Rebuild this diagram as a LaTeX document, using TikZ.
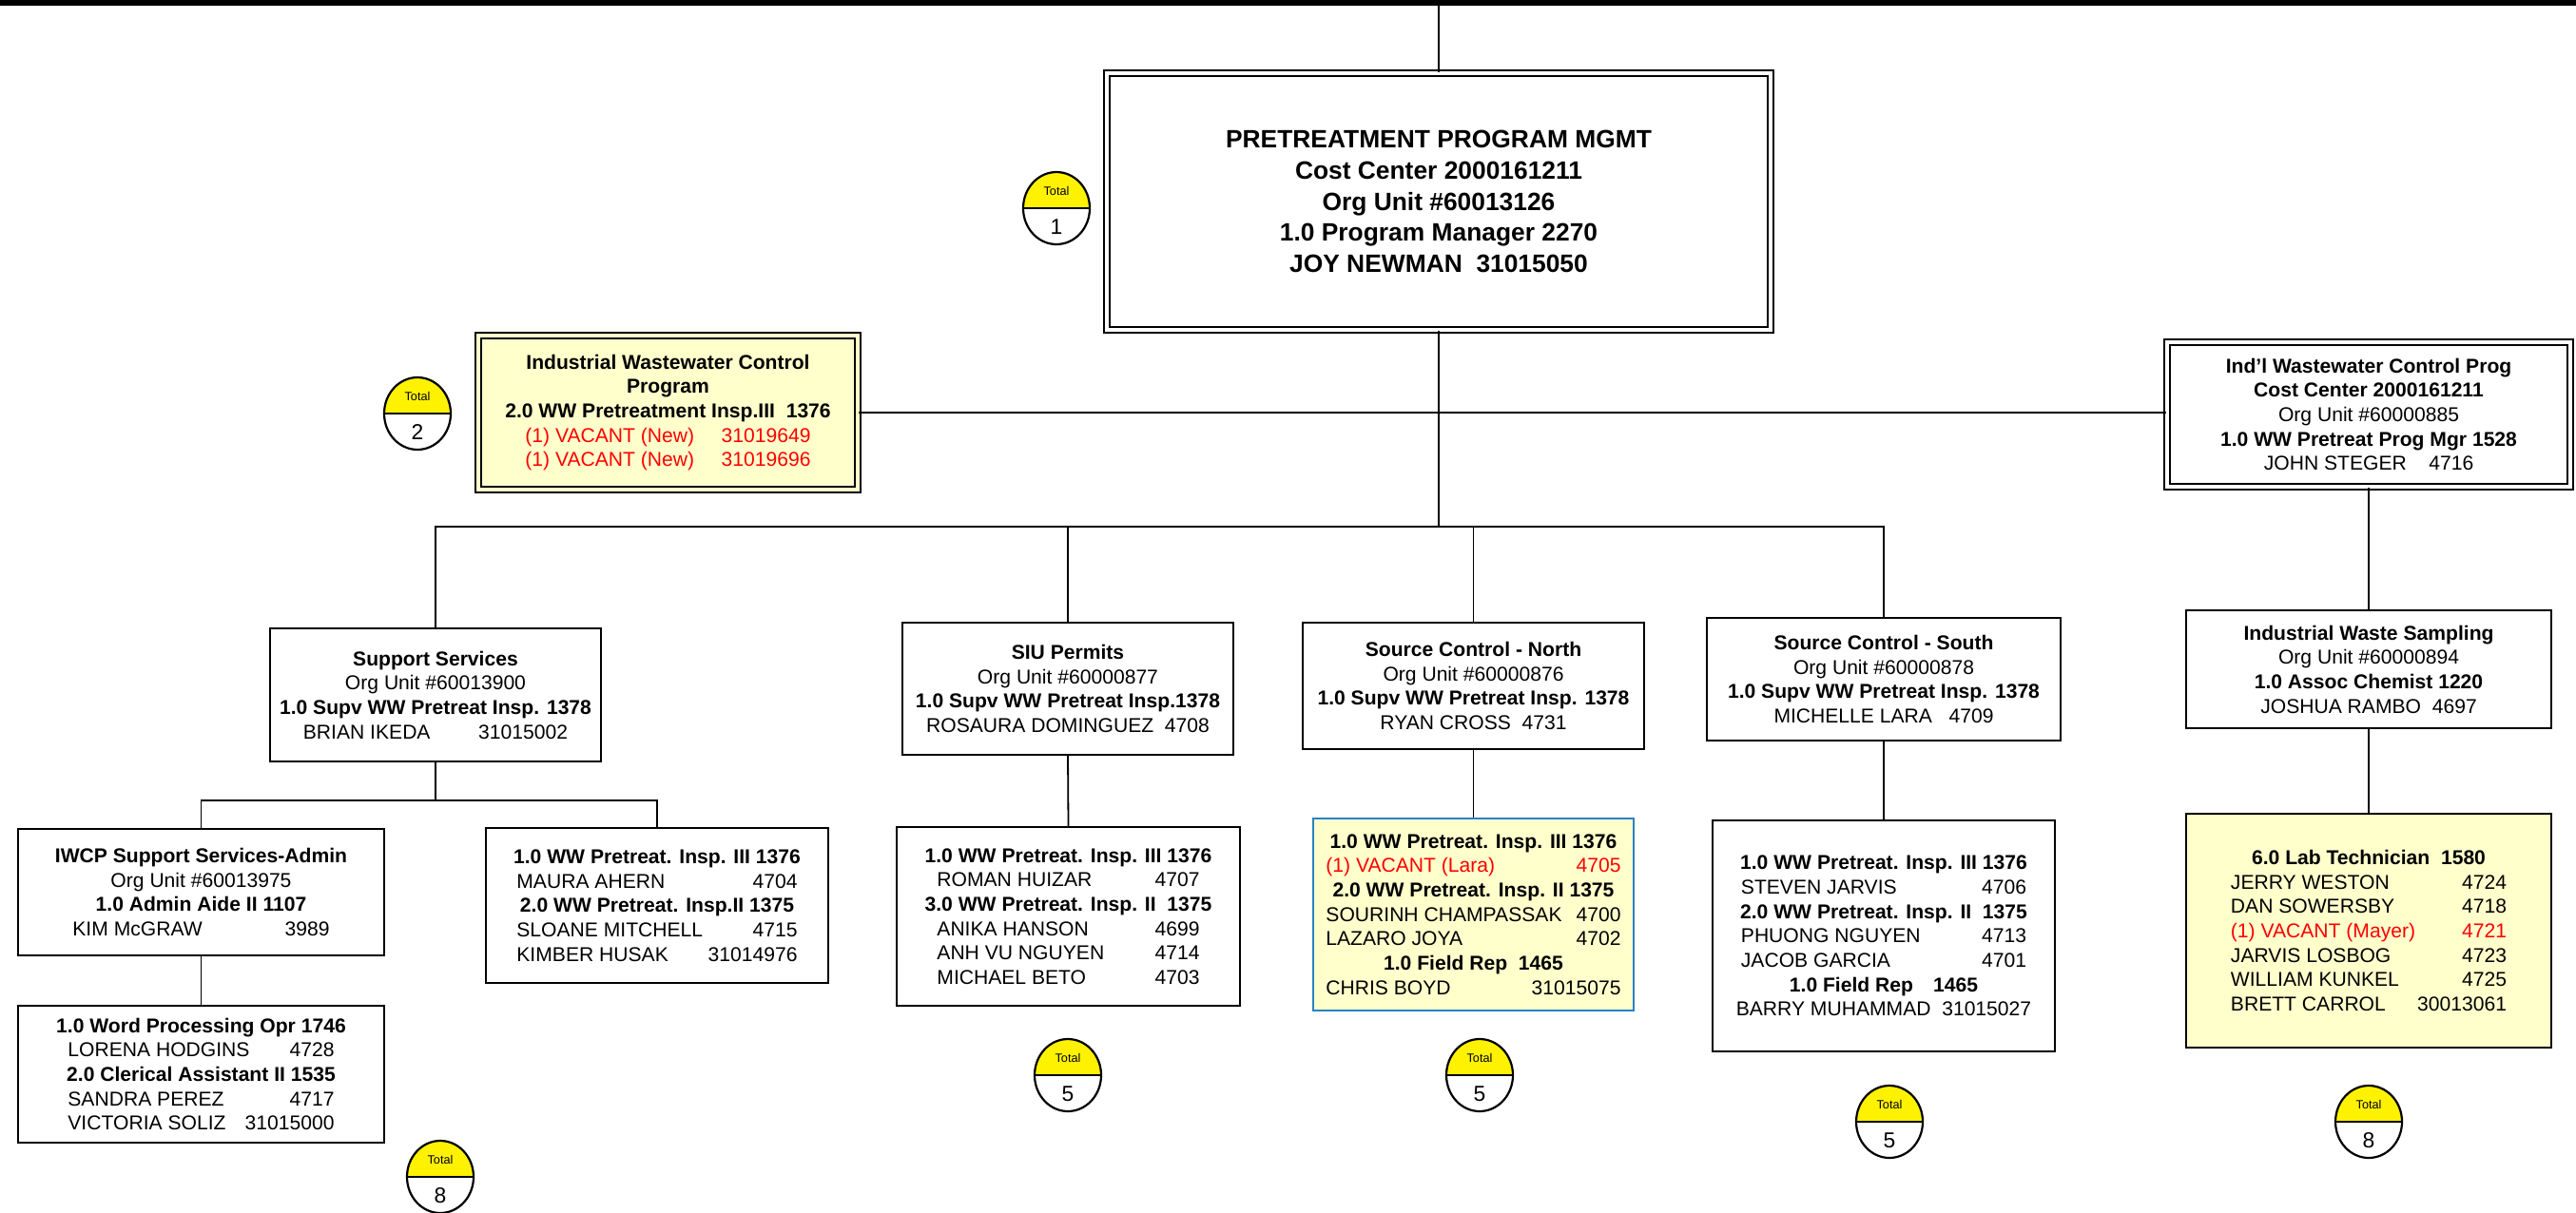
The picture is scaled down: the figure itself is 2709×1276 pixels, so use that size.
\documentclass[tikz,border=0pt]{standalone}
\usepackage{fontspec}
\setmainfont{Liberation Sans}
\definecolor{paleyellow}{RGB}{255,255,204}
\definecolor{boxblue}{RGB}{40,130,200}
\newcommand\lr[3][2.9cm]{\makebox[#1]{#2\hfill#3}}
\newcommand\vac[1]{\textcolor{red}{#1}}
\tikzset{
  box/.style={draw,line width=0.02cm,align=center,inner sep=0pt,font=\fontsize{6}{7.3}\selectfont},
  dblbox/.style={box,double,double distance=0.04cm},
  link/.style={line width=0.018cm},
  badge/.style={line width=0.022cm}
}
\begin{document}
\begin{tikzpicture}[x=0.01cm,y=-0.01cm]
\useasboundingbox (0,0) rectangle (2709,1276);
\draw[line width=0.06cm] (0,3)--(2709,3);
\coordinate (top) at (1513,6);

\node (mgmt) at (1513,212)[dblbox,minimum width=6.98cm,minimum height=2.70cm,font=\fontsize{7.5}{9.3}\selectfont\bfseries]
{PRETREATMENT PROGRAM MGMT\\Cost Center 2000161211\\Org Unit \#60013126\\1.0 Program Manager 2270\\JOY NEWMAN\ \ 31015050};
\node (iwcp) at (702.5,434)[dblbox,double=paleyellow,fill=paleyellow,minimum width=3.99cm,minimum height=1.62cm]
{\textbf{Industrial Wastewater Control}\\\textbf{Program}\\\textbf{2.0 WW Pretreatment Insp.III\ \ 1376}\\
\vac{\lr[3.0cm]{(1) VACANT (New)}{31019649}}\\\vac{\lr[3.0cm]{(1) VACANT (New)}{31019696}}};
\node (indl) at (2491,436)[dblbox,minimum width=4.24cm,minimum height=1.52cm]
{\textbf{Ind’l Wastewater Control Prog}\\\textbf{Cost Center 2000161211}\\Org Unit \#60000885\\
\textbf{1.0 WW Pretreat Prog Mgr 1528}\\JOHN STEGER\ \ \ \ 4716};

\node (supp) at (458,731)[box,minimum width=3.48cm,minimum height=1.40cm]
{\textbf{Support Services}\\Org Unit \#60013900\\\textbf{1.0 Supv WW Pretreat Insp. 1378}\\\lr[2.78cm]{BRIAN IKEDA}{31015002}};
\node (siu) at (1123,724.5)[box,minimum width=3.48cm,minimum height=1.39cm]
{\textbf{SIU Permits}\\Org Unit \#60000877\\\textbf{1.0 Supv WW Pretreat Insp.1378}\\ROSAURA DOMINGUEZ\ \ 4708};
\node (scn) at (1549.5,721.5)[box,minimum width=3.59cm,minimum height=1.33cm]
{\textbf{Source Control - North}\\Org Unit \#60000876\\\textbf{1.0 Supv WW Pretreat Insp. 1378}\\RYAN CROSS\ \ 4731};
\node (scs) at (1981,714.5)[box,minimum width=3.72cm,minimum height=1.29cm]
{\textbf{Source Control - South}\\Org Unit \#60000878\\\textbf{1.0 Supv WW Pretreat Insp. 1378}\\MICHELLE LARA\ \ \ 4709};
\node (iws) at (2491,704)[box,minimum width=3.84cm,minimum height=1.24cm]
{\textbf{Industrial Waste Sampling}\\Org Unit \#60000894\\\textbf{1.0 Assoc Chemist 1220}\\JOSHUA RAMBO\ \ 4697};

\node (admin) at (211.5,938.5)[box,minimum width=3.85cm,minimum height=1.33cm]
{\textbf{IWCP Support Services-Admin}\\Org Unit \#60013975\\\textbf{1.0 Admin Aide II 1107}\\\lr[2.7cm]{KIM McGRAW}{3989}};
\node (insp) at (691,952.5)[box,minimum width=3.60cm,minimum height=1.63cm]
{\textbf{1.0 WW Pretreat. Insp. III 1376}\\\lr[2.95cm]{MAURA AHERN}{4704}\\\textbf{2.0 WW Pretreat. Insp.II 1375}\\
\lr[2.95cm]{SLOANE MITCHELL}{4715}\\\lr[2.95cm]{KIMBER HUSAK}{31014976}};
\node (wproc) at (211.5,1130)[box,minimum width=3.85cm,minimum height=1.44cm]
{\textbf{1.0 Word Processing Opr 1746}\\\lr[2.8cm]{LORENA HODGINS}{4728}\\\textbf{2.0 Clerical Assistant II 1535}\\
\lr[2.8cm]{SANDRA PEREZ}{4717}\\\lr[2.8cm]{VICTORIA SOLIZ}{31015000}};
\node (siustaff) at (1123.5,964)[box,minimum width=3.61cm,minimum height=1.88cm]
{\textbf{1.0 WW Pretreat. Insp. III 1376}\\\lr[2.76cm]{ROMAN HUIZAR}{4707}\\\textbf{3.0 WW Pretreat. Insp. II\ \ 1375}\\
\lr[2.76cm]{ANIKA HANSON}{4699}\\\lr[2.76cm]{ANH VU NGUYEN}{4714}\\\lr[2.76cm]{MICHAEL BETO}{4703}};
\node (scnstaff) at (1549.5,962)[box,draw=boxblue,fill=paleyellow,minimum width=3.37cm,minimum height=2.02cm]
{\textbf{1.0 WW Pretreat. Insp. III 1376}\\\vac{\lr[3.1cm]{(1) VACANT (Lara)}{4705}}\\\textbf{2.0 WW Pretreat. Insp. II 1375}\\
\lr[3.1cm]{SOURINH CHAMPASSAK}{4700}\\\lr[3.1cm]{LAZARO JOYA}{4702}\\\textbf{1.0 Field Rep\ \ 1465}\\\lr[3.1cm]{CHRIS BOYD}{31015075}};
\node (scsstaff) at (1981,984.5)[box,minimum width=3.60cm,minimum height=2.43cm]
{\textbf{1.0 WW Pretreat. Insp. III 1376}\\\lr[3.0cm]{STEVEN JARVIS}{4706}\\\textbf{2.0 WW Pretreat. Insp. II\ \ 1375}\\
\lr[3.0cm]{PHUONG NGUYEN}{4713}\\\lr[3.0cm]{JACOB GARCIA}{4701}\\\textbf{1.0 Field Rep\quad 1465}\\BARRY MUHAMMAD\ \ 31015027};
\node (lab) at (2491,979)[box,fill=paleyellow,minimum width=3.84cm,minimum height=2.46cm]
{\textbf{6.0 Lab Technician\ \ 1580}\\\lr{JERRY WESTON}{4724}\\\lr{DAN SOWERSBY}{4718}\\\vac{\lr{(1) VACANT (Mayer)}{4721}}\\
\lr{JARVIS LOSBOG}{4723}\\\lr{WILLIAM KUNKEL}{4725}\\\lr{BRETT CARROL}{30013061}};

\coordinate (bus) at (1513,554);
\coordinate (sbus) at (458,842);
\draw[link] (top)--(mgmt.north);
\draw[link] (mgmt.south)--(bus);
\draw[link] (iwcp.east)--(iwcp.east -| indl.west);
\foreach \n in {supp,siu,scn,scs}
{
    \draw[link] (bus)-|(\n.north);
}
\draw[link] (indl.south)--(iws.north);
\draw[link] (supp.south)--(sbus);
\draw[link] (sbus)-|(admin.north);
\draw[link] (sbus)-|(insp.north);
\draw[link] (admin.south)--(wproc.north);
\draw[link] (siu.south)--(siustaff.north);
\draw[link] (scn.south)--(scnstaff.north);
\draw[link] (scs.south)--(scsstaff.north);
\draw[link] (iws.south)--(lab.north);

\foreach \i/\bx/\by/\bn in {1/1111/219/1,2/439/435/2,3/463/1238/8,4/1123/1131/5,5/1556/1131/5,6/1987/1180/5,7/2491/1180/8}
{
    \begin{scope}
    \clip (\bx-40,\by-45) rectangle (\bx+40,\by);
    \fill[yellow] (\bx,\by) ellipse [x radius=35,y radius=38];
    \end{scope}
    \draw[badge] (\bx,\by) ellipse [x radius=35,y radius=38];
    \draw[badge] (\bx-35,\by)--(\bx+35,\by);
    \node (tot\i) at (\bx,\by-18)[font=\fontsize{3.6}{4}\selectfont]{Total};
    \node (num\i) at (\bx,\by+20)[font=\fontsize{6.5}{7}\selectfont]{\bn};
}
\end{tikzpicture}
\end{document}
